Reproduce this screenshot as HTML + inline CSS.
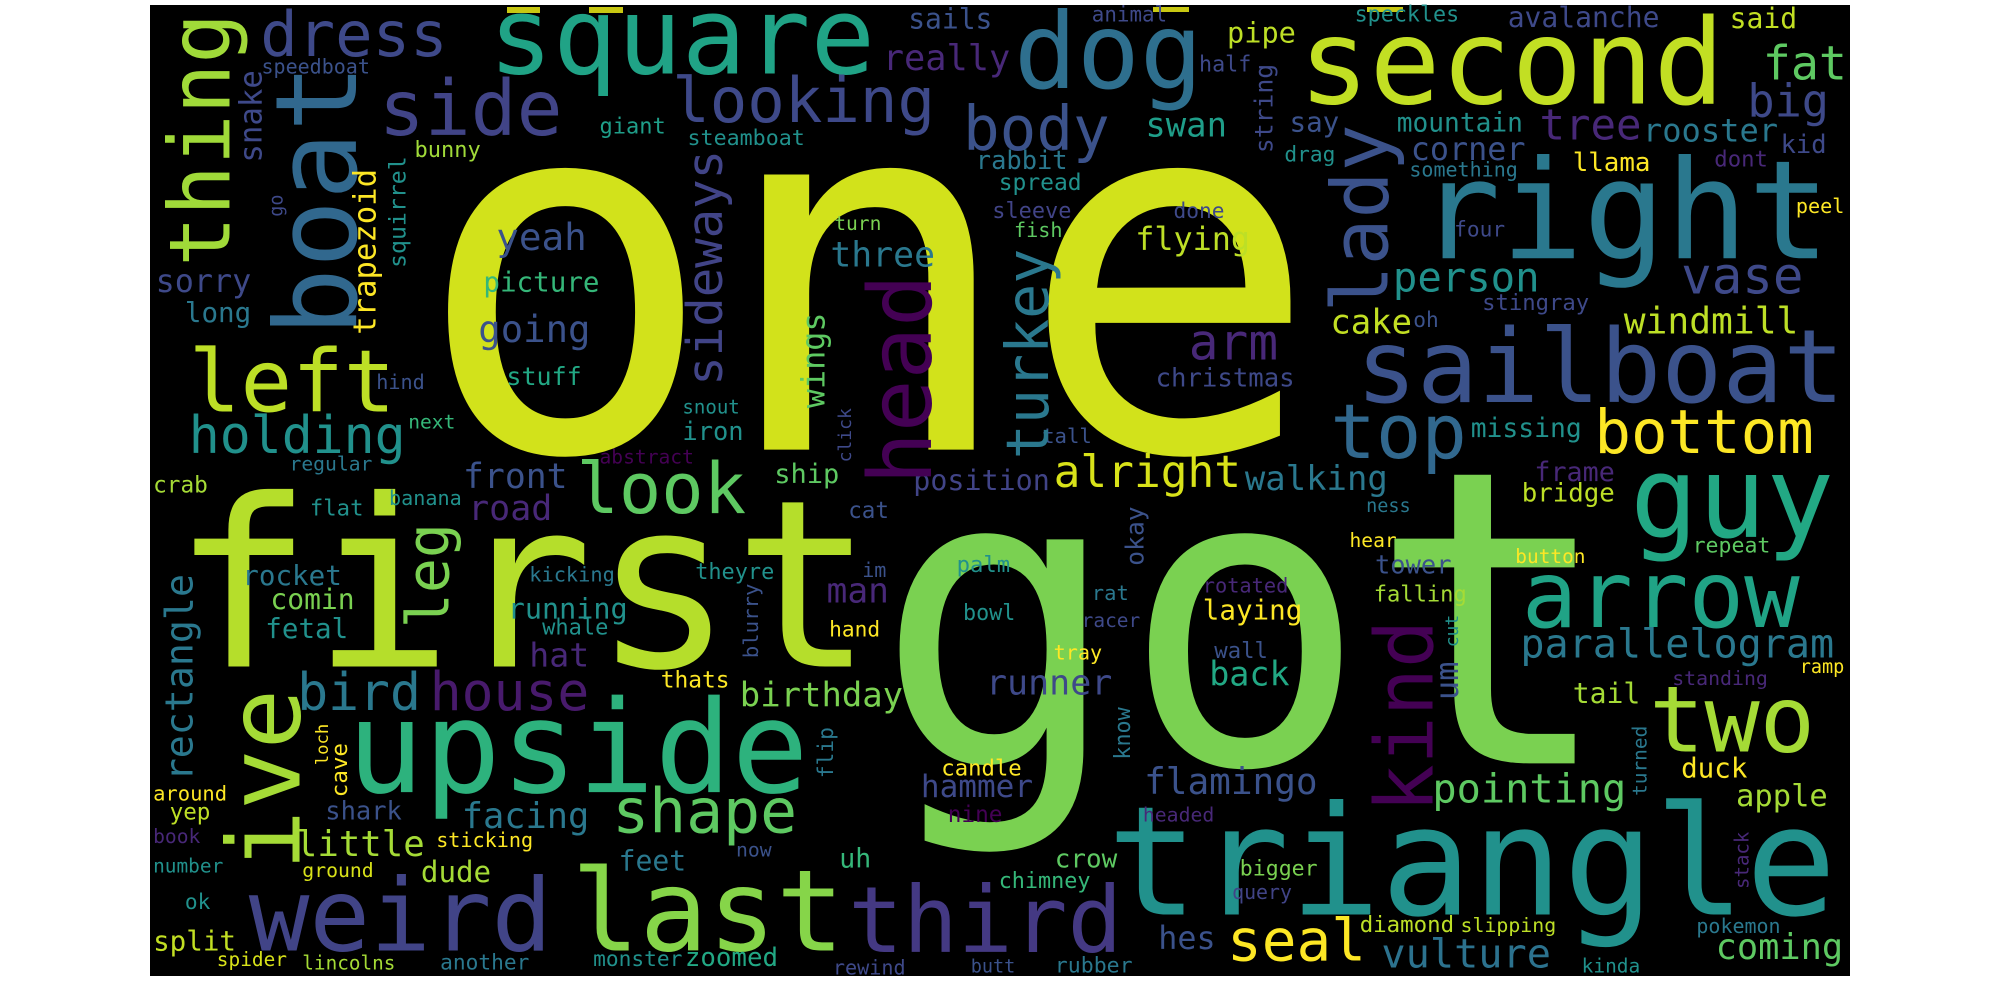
<!DOCTYPE html>
<html><head><meta charset="utf-8">
<style>
html,body{margin:0;padding:0;background:#fff;}
svg{display:block;}
text{font-family:"DejaVu Sans Mono","Liberation Mono",monospace;}
</style></head>
<body>
<svg id="cloud" width="2000" height="1000" viewBox="0 0 2000 1000" xmlns="http://www.w3.org/2000/svg">
<rect x="150" y="5" width="1700" height="971" fill="#000"/>
<rect x="507" y="7" width="33" height="6" fill="#c8c812"/>
<rect x="589" y="7" width="34" height="6" fill="#c8c812"/>
<rect x="1153" y="7" width="36" height="5" fill="#c8c812"/>
<rect x="1367" y="7" width="36" height="5" fill="#c8c812"/>
</svg>
<script>
// Horizontal words: text, left, right, baseline (measured in reference zoom units), colour
const hWords = [
["one",325,1035,705,"#d2e21b"],["got",686,1266,1197,"#7ad151"],["first",135,685,1045,"#b5de2b"],
["triangle",868,1440,1434,"#21918c"],["upside",272,634,1242,"#2db27d"],["weird",195,433,1490,"#414487"],
["last",448,662,1490,"#86d549"],["third",665,880,1493,"#443983"],["seal",962,1071,1506,"#fde725"],
["vulture",1083,1216,1517,"#2c728e"],["coming",1345,1445,1504,"#5ec962"],["hes",908,953,1488,"#3b528b"],
["diamond",1066,1140,1461,"#bddf26"],["slipping",1145,1220,1461,"#bddf26"],["pokemon",1330,1396,1463,"#2a788e"],
["kinda",1240,1286,1525,"#21918c"],["rubber",827,888,1525,"#2a788e"],["butt",761,796,1525,"#3b528b"],
["rewind",653,710,1528,"#3e4989"],["monster",465,535,1515,"#21918c"],["zoomed",537,610,1515,"#22a884"],
["another",345,415,1520,"#2a788e"],["lincolns",237,310,1520,"#a5db36"],["spider",170,225,1515,"#d8e219"],
["split",120,185,1490,"#c2df23"],["ok",145,165,1425,"#21918c"],["number",120,175,1368,"#21918c"],
["book",120,157,1322,"#482878"],["yep",133,165,1285,"#bddf26"],["around",120,178,1255,"#fde725"],
["little",232,333,1342,"#a5db36"],["sticking",342,418,1328,"#fde725"],["ground",237,293,1375,"#d8e219"],
["dude",330,385,1383,"#a5db36"],["shark",255,315,1285,"#3b528b"],["facing",362,462,1298,"#2a788e"],
["shape",480,625,1305,"#5ec962"],["feet",485,538,1365,"#2a788e"],["now",577,605,1343,"#3b528b"],
["uh",658,683,1360,"#35b779"],["crow",827,876,1360,"#5ec962"],["chimney",783,855,1392,"#35b779"],
["bigger",972,1033,1373,"#7ad151"],["query",966,1013,1410,"#414487"],["hammer",722,810,1250,"#3e4989"],
["candle",738,801,1216,"#fde725"],["nine",743,786,1289,"#440154"],["flamingo",897,1033,1245,"#3b528b"],
["headed",896,952,1288,"#482878"],["pointing",1123,1275,1258,"#5ec962"],["apple",1361,1433,1264,"#a5db36"],
["duck",1318,1370,1219,"#fde725"],["two",1293,1423,1178,"#a5db36"],["tail",1233,1286,1102,"#a5db36"],
["standing",1311,1386,1074,"#482878"],["ramp",1411,1446,1055,"#fde725"],["parallelogram",1192,1438,1031,"#2a788e"],
["arrow",1193,1411,983,"#20a386"],["falling",1077,1150,943,"#a5db36"],["tower",1078,1138,899,"#3b528b"],
["rotated",943,1010,929,"#482878"],["laying",943,1021,971,"#fde725"],["wall",952,994,1032,"#3b528b"],
["back",948,1011,1075,"#22a884"],["runner",773,872,1089,"#3e4989"],["repeat",1327,1388,866,"#5ec962"],
["button",1188,1243,883,"#fde725"],["hear",1058,1095,858,"#fde725"],["ness",1071,1106,803,"#2a788e"],
["guy",1278,1438,842,"#22a884"],["bridge",1193,1266,786,"#bddf26"],["frame",1203,1266,754,"#482878"],
["walking",976,1088,768,"#2a788e"],["alright",826,973,764,"#d8e219"],["position",716,823,768,"#414487"],
["bottom",1250,1422,710,"#fde725"],["missing",1153,1240,685,"#21918c"],["top",1043,1150,718,"#31688e"],
["sailboat",1063,1446,630,"#3b528b"],["windmill",1273,1410,523,"#bddf26"],["cake",1043,1107,523,"#c2df23"],
["oh",1108,1128,513,"#3b528b"],["christmas",906,1015,606,"#3e4989"],["arm",932,1002,564,"#482878"],
["stingray",1162,1246,486,"#3e4989"],["person",1092,1207,457,"#21918c"],["vase",1318,1414,460,"#3e4989"],
["right",1112,1435,405,"#2a788e"],["four",1140,1180,371,"#3e4989"],["peel",1408,1446,334,"#fde725"],
["llama",1233,1294,268,"#fde725"],["dont",1344,1386,261,"#482878"],["something",1105,1190,277,"#2a788e"],
["corner",1106,1196,251,"#3b528b"],["mountain",1095,1194,206,"#21918c"],["tree",1207,1287,219,"#482878"],
["rooster",1288,1394,222,"#2a788e"],["kid",1396,1432,240,"#3e4989"],["big",1370,1434,183,"#3e4989"],
["fat",1382,1448,125,"#5ec962"],["said",1356,1409,44,"#c2df23"],["avalanche",1182,1301,42,"#3e4989"],
["speckles",1062,1144,34,"#21918c"],["second",1018,1352,162,"#c2df23"],["pipe",962,1016,67,"#bddf26"],
["half",940,981,112,"#3e4989"],["say",1011,1050,206,"#3b528b"],["drag",1007,1047,253,"#21918c"],
["swan",898,962,214,"#1f9e89"],["animal",856,915,34,"#3e4989"],["dog",795,943,138,"#2e6f8e"],
["body",755,870,235,"#3b528b"],["really",692,792,110,"#482878"],["sails",712,778,45,"#3b528b"],
["square",383,686,115,"#20a386"],["looking",527,733,191,"#3e4989"],["side",297,441,212,"#414487"],
["dress",204,351,88,"#3e4989"],["speedboat",205,290,115,"#3b528b"],["giant",470,522,209,"#1f9e89"],
["steamboat",539,631,227,"#21918c"],["bunny",325,377,246,"#a0da39"],["rabbit",765,837,265,"#2a788e"],
["spread",783,848,298,"#21918c"],["sleeve",778,840,342,"#414487"],["fish",795,833,372,"#5ec962"],
["turn",654,691,361,"#7ad151"],["done",920,960,342,"#3e4989"],["flying",890,980,392,"#bddf26"],
["three",651,733,418,"#2a788e"],["yeah",389,460,392,"#3b528b"],["picture",379,470,457,"#35b779"],
["going",375,463,536,"#3b528b"],["stuff",397,456,604,"#22a884"],["snout",535,580,648,"#21918c"],
["iron",535,583,690,"#21918c"],["ship",607,658,757,"#5ec962"],["abstract",470,544,727,"#440154"],
["front",363,445,765,"#3b528b"],["road",367,433,815,"#482878"],["look",452,585,804,"#5ec962"],
["cat",665,697,812,"#3b528b"],["kicking",415,482,912,"#2a788e"],["theyre",545,607,908,"#21918c"],
["im",676,695,905,"#3b528b"],["rocket",190,268,917,"#2a788e"],["comin",212,278,955,"#7ad151"],
["fetal",208,273,1000,"#21918c"],["running",398,492,970,"#21918c"],["whale",425,477,995,"#21918c"],
["hat",415,462,1045,"#482878"],["man",648,697,945,"#482878"],["palm",750,792,897,"#21918c"],
["rat",856,885,941,"#2a788e"],["bowl",755,796,972,"#21918c"],["racer",848,894,983,"#3e4989"],
["tray",826,864,1034,"#fde725"],["hand",650,690,998,"#fde725"],["thats",518,572,1078,"#fde725"],
["birthday",580,708,1108,"#7ad151"],["bird",233,330,1113,"#2a788e"],["house",337,462,1113,"#481a6c"],
["regular",227,292,738,"#2a788e"],["banana",305,362,792,"#21918c"],["crab",120,163,772,"#a5db36"],
["flat",243,285,808,"#21918c"],["hind",295,333,610,"#3b528b"],["next",320,357,672,"#35b779"],
["holding",148,318,710,"#21918c"],["left",148,310,645,"#bddf26"],["sorry",122,197,458,"#3e4989"],
["long",145,197,505,"#2a788e"],["tall",817,856,695,"#3b528b"]
];
// Vertical words (read upward): text, box right, bottom, top, colour
const vWords = [
["thing",195,418,20,"#a0da39"],["boat",279,527,100,"#31688e"],["snake",205,255,110,"#3e4989"],
["trapezoid",300,525,265,"#fde725"],["squirrel",322,420,245,"#21918c"],["sideways",575,605,235,"#414487"],
["wings",652,640,490,"#5ec962"],["click",667,725,640,"#3e4989"],["head",730,760,430,"#440154"],
["turkey",832,720,390,"#2a788e"],["lady",1102,490,195,"#3b528b"],["string",1002,240,100,"#3e4989"],
["leg",362,985,820,"#7ad151"],["rectangle",158,1225,900,"#2a788e"],["ive",235,1365,1080,"#a5db36"],
["loch",257,1200,1135,"#fde725"],["cave",272,1250,1165,"#fde725"],["flip",657,1220,1140,"#2a788e"],
["blurry",598,1032,915,"#3b528b"],["okay",901,887,794,"#3b528b"],["know",886,1191,1109,"#2a788e"],
["kind",1123,1274,972,"#440154"],["um",1143,1098,1037,"#3b528b"],["cut",1143,1015,964,"#21918c"],
["turned",1291,1248,1138,"#2a788e"],["stack",1371,1394,1304,"#482878"],["go",225,340,305,"#3e4989"]
];
const SX = 1/0.784, SY = 1/1.568;
const NS = "http://www.w3.org/2000/svg";
const svg = document.getElementById("cloud");
function px(v){ return v*SX; }
function py(v){ return v*SY; }
hWords.forEach(function(w){
  const len = px(w[2]-w[1]);
  const fs = len/(w[0].length*0.6);
  const t = document.createElementNS(NS,"text");
  t.setAttribute("x", px(w[1]).toFixed(1));
  t.setAttribute("y", py(w[3]).toFixed(1));
  t.setAttribute("font-size", fs.toFixed(1));
  t.setAttribute("textLength", len.toFixed(1));
  t.setAttribute("lengthAdjust","spacingAndGlyphs");
  t.setAttribute("fill", w[4]);
  
  
  t.textContent = w[0];
  svg.appendChild(t);
});
vWords.forEach(function(w){
  const len = py(w[2]-w[3]);
  const fs = len/(w[0].length*0.6);
  const desc = /[gpyqj]/.test(w[0]) ? 0.23*fs : 0;
  const bx = px(w[1]) - desc;
  const by = py(w[2]);
  const t = document.createElementNS(NS,"text");
  t.setAttribute("x", bx.toFixed(1));
  t.setAttribute("y", by.toFixed(1));
  t.setAttribute("transform","rotate(-90 "+bx.toFixed(1)+" "+by.toFixed(1)+")");
  t.setAttribute("font-size", fs.toFixed(1));
  t.setAttribute("textLength", len.toFixed(1));
  t.setAttribute("lengthAdjust","spacingAndGlyphs");
  t.setAttribute("fill", w[4]);
  
  
  t.textContent = w[0];
  svg.appendChild(t);
});
</script>
</body></html>
